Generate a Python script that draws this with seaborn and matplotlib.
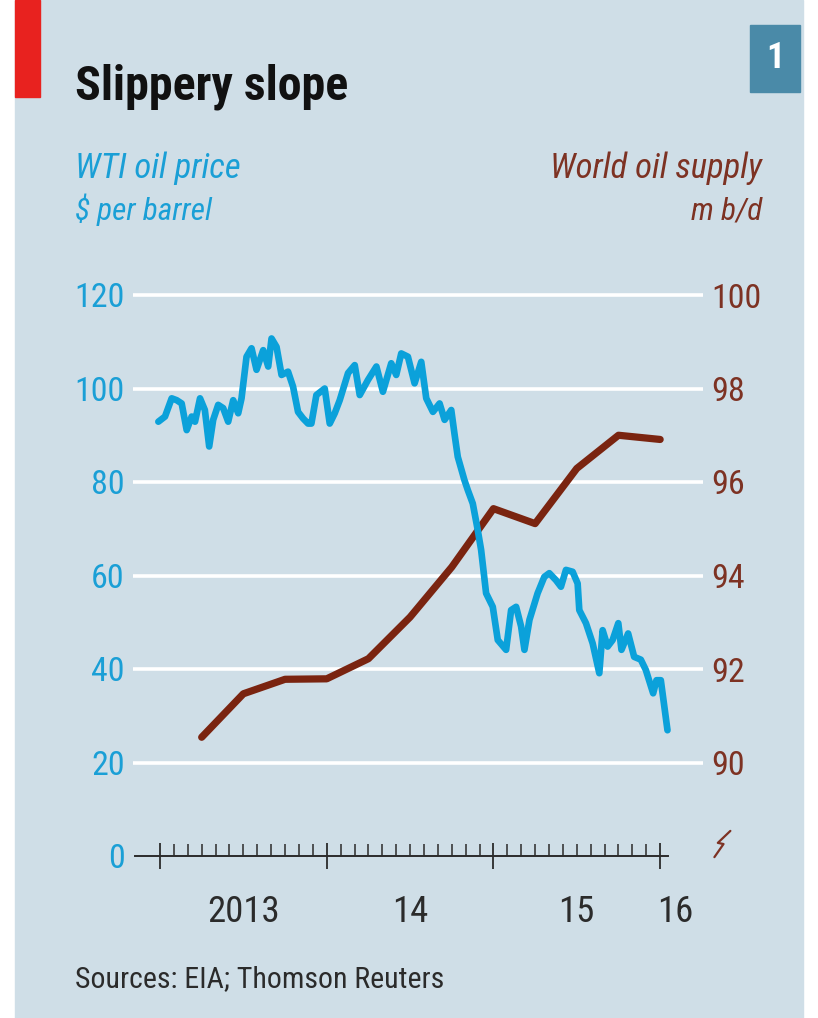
import matplotlib
matplotlib.use("Agg")
import matplotlib.pyplot as plt
from matplotlib import font_manager
from matplotlib.patches import Rectangle
import pandas as pd
import seaborn as sns

# WTI oil price, $ per barrel (decimal year)
price_x = [2012.990, 2013.030, 2013.070, 2013.100, 2013.130, 2013.160, 2013.190, 2013.210, 2013.240, 2013.269,
           2013.295, 2013.319, 2013.349, 2013.379, 2013.409, 2013.439, 2013.469, 2013.489, 2013.519, 2013.549,
           2013.579, 2013.619, 2013.649, 2013.669, 2013.699, 2013.729, 2013.768, 2013.798, 2013.828, 2013.858,
           2013.888, 2013.908, 2013.938, 2013.988, 2014.018, 2014.048, 2014.078, 2014.128, 2014.168, 2014.198,
           2014.247, 2014.298, 2014.337, 2014.387, 2014.417, 2014.447, 2014.487, 2014.527, 2014.567, 2014.597,
           2014.637, 2014.677, 2014.707, 2014.747, 2014.766, 2014.786, 2014.826, 2014.846, 2014.876, 2014.906,
           2014.926, 2014.956, 2014.996, 2015.026, 2015.076, 2015.106, 2015.136, 2015.166, 2015.186, 2015.216,
           2015.265, 2015.305, 2015.335, 2015.375, 2015.405, 2015.435, 2015.475, 2015.505, 2015.515, 2015.555,
           2015.595, 2015.635, 2015.655, 2015.685, 2015.715, 2015.749, 2015.768, 2015.808, 2015.844, 2015.884,
           2015.914, 2015.958, 2015.978, 2016.004, 2016.044]
price_y = [92.9, 94.0, 97.9, 97.5, 96.8, 91.1, 94.0, 92.9, 97.9, 95.4,
           87.6, 93.3, 96.5, 95.8, 92.9, 97.5, 94.7, 97.9, 106.8, 108.6,
           104.0, 108.2, 104.7, 110.7, 108.9, 102.9, 103.6, 100.4, 95.0, 93.6,
           92.5, 92.5, 98.6, 100.0, 92.5, 94.7, 97.5, 103.3, 105.0, 98.6,
           101.8, 104.7, 99.3, 105.4, 102.9, 107.5, 106.8, 101.1, 105.7, 97.9,
           95.0, 96.8, 93.3, 95.4, 90.4, 85.4, 80.4, 78.3, 75.4, 69.7,
           65.5, 56.2, 53.3, 46.2, 44.1, 52.6, 53.3, 49.1, 44.1, 50.5,
           56.2, 59.7, 60.5, 59.0, 57.6, 61.2, 60.8, 58.3, 52.6, 49.8,
           45.5, 39.1, 48.3, 44.8, 46.2, 49.8, 44.1, 47.6, 42.6, 42.0,
           39.8, 34.8, 37.6, 37.6, 26.9]

# World oil supply, m b/d, quarterly
supply_x = [2013.25, 2013.5, 2013.75, 2014.0, 2014.25, 2014.5, 2014.75, 2015.0, 2015.25, 2015.5, 2015.75, 2016.0]
supply_y = [90.54, 91.47, 91.78, 91.79, 92.22, 93.11, 94.18, 95.43, 95.11, 96.29, 97.0, 96.91]

left_ticks = [0, 20, 40, 60, 80, 100, 120]
right_ticks = [90, 92, 94, 96, 98, 100]
year_ticks = [2013, 2014, 2015, 2016]
year_labels = ["2013", "14", "15", "16"]
year_label_x = [2013.5, 2014.5, 2015.5, 2016.09]

BG = "#cfdee7"
BLUE = "#0ba1da"
BLUE_TXT = "#1a9fd6"
BROWN = "#7a2410"
BROWN_TXT = "#7d3223"
DARK = "#2b2b2b"

sns.set_style("white")

# look for a narrow / condensed sans face, the chart uses a condensed font
entries = font_manager.fontManager.ttflist
names = {f.name for f in entries}
FONT, STRETCH, SCALE = "Liberation Sans", "normal", 0.8
for fam in ["Liberation Sans Narrow", "Roboto Condensed", "Open Sans Condensed", "Noto Sans Condensed",
            "DejaVu Sans Condensed"]:
    if fam in names:
        FONT, STRETCH, SCALE = fam, "normal", 1.0
        break
else:
    for fam in ["Noto Sans", "Open Sans", "Roboto", "DejaVu Sans"]:
        st = [f for f in entries if f.name == fam and str(f.stretch) in ("condensed", "semi-condensed")]
        if st:
            FONT, STRETCH, SCALE = fam, str(st[0].stretch), 1.0 if st[0].stretch == "condensed" else 0.92
            break

plt.rcParams["font.family"] = [FONT, "DejaVu Sans"]
plt.rcParams["font.stretch"] = STRETCH


def fs(v):
    return v * SCALE


df_price = pd.DataFrame({"year": price_x, "price": price_y})
df_supply = pd.DataFrame({"year": supply_x, "supply": supply_y})

fig = plt.figure(figsize=(8.18, 10.18), dpi=100, facecolor="white")

# panel background, red tag, number badge
fig.patches.append(Rectangle((15 / 818, 0), 788 / 818, 1, transform=fig.transFigure, color=BG, zorder=-10))
fig.patches.append(Rectangle((15 / 818, 1 - 97 / 1018), 25 / 818, 97 / 1018, transform=fig.transFigure,
                             color="#e8221f", zorder=-5))
fig.patches.append(Rectangle((750 / 818, 1 - 92 / 1018), 50 / 818, 67 / 1018, transform=fig.transFigure,
                             color="#4a8aa8", zorder=-5))
fig.text(775 / 818, 1 - 58 / 1018, "1", color="white", fontsize=fs(26), fontweight="bold",
         ha="center", va="center", fontstretch=STRETCH)

fig.text(75 / 818, 1 - 100 / 1018, "Slippery slope", fontsize=fs(34.5), fontweight="bold", color="#111111",
         ha="left", va="baseline", fontstretch=STRETCH)
fig.text(75 / 818, 1 - 178 / 1018, "WTI oil price", fontsize=fs(25), style="italic", color=BLUE_TXT,
         va="baseline", fontstretch=STRETCH)
fig.text(75 / 818, 1 - 220 / 1018, "$ per barrel", fontsize=fs(22.5), style="italic", color=BLUE_TXT,
         va="baseline", fontstretch=STRETCH)
fig.text(762 / 818, 1 - 178 / 1018, "World oil supply", fontsize=fs(25), style="italic", color=BROWN_TXT,
         ha="right", va="baseline", fontstretch=STRETCH)
fig.text(762 / 818, 1 - 220 / 1018, "m b/d", fontsize=fs(22.5), style="italic", color=BROWN_TXT,
         ha="right", va="baseline", fontstretch=STRETCH)
fig.text(75 / 818, 1 - 987 / 1018, "Sources: EIA; Thomson Reuters", fontsize=fs(21.5), color=DARK,
         va="baseline", fontstretch=STRETCH)

ax = fig.add_axes([133 / 818, 1 - 856 / 1018, 570 / 818, 570.35 / 1018])
ax2 = ax.twinx()

ax.set_ylim(0, 122)
ax2.set_ylim(88, 100.2)
ax.set_xlim(2012.838, 2016.257)

# right axis sits underneath: gridlines + supply line
ax2.hlines(right_ticks, 0, 1, transform=ax2.get_yaxis_transform(), color="white", lw=2.6, zorder=1)
sns.lineplot(data=df_supply, x="year", y="supply", ax=ax2, color=BROWN, lw=5.2, zorder=3)

# left axis on top: oil price
ax.set_zorder(ax2.get_zorder() + 1)
ax.patch.set_visible(False)
ax2.patch.set_visible(False)
sns.lineplot(data=df_price, x="year", y="price", ax=ax, color=BLUE, lw=4.8, zorder=4)

for a in (ax, ax2):
    a.set_xlabel("")
    a.set_ylabel("")
    for s in a.spines.values():
        s.set_visible(False)

ax.spines["bottom"].set_visible(True)
ax.spines["bottom"].set_bounds(2012.85, 2016.05)
ax.spines["bottom"].set_color(DARK)
ax.spines["bottom"].set_linewidth(1.4)

ax.set_yticks(left_ticks)
ax.set_yticklabels([str(v) for v in left_ticks], fontstretch=STRETCH)
ax.tick_params(axis="y", left=False, length=0, pad=6, labelsize=fs(24.5), labelcolor=BLUE_TXT)
ax2.set_yticks(right_ticks)
ax2.set_yticklabels([str(v) for v in right_ticks], fontstretch=STRETCH)
ax2.tick_params(axis="y", right=False, length=0, pad=6, labelsize=fs(24.5), labelcolor=BROWN_TXT)
ax2.tick_params(axis="x", bottom=False, labelbottom=False)

ax.set_xticks(year_ticks)
ax.set_xticks([y + m / 12 for y in year_ticks[:-1] for m in range(1, 12)], minor=True)
ax.tick_params(axis="x", which="major", bottom=True, direction="inout", length=19, width=1.3, color=DARK,
               labelbottom=False)
ax.tick_params(axis="x", which="minor", bottom=True, direction="in", length=9, width=1.1, color=DARK)

for xl, lab in zip(year_label_x, year_labels):
    ax.text(xl, -0.098, lab, transform=ax.get_xaxis_transform(), ha="center", va="center",
            fontsize=fs(26.5), color=DARK, fontstretch=STRETCH)

# axis-break mark on the right scale
ax2.plot([1.020, 1.036, 1.026, 1.048], [-0.002, 0.021, 0.023, 0.044], transform=ax2.transAxes,
         color=BROWN_TXT, lw=1.6, clip_on=False)

fig.savefig("out.png", dpi=100, facecolor=fig.get_facecolor())
